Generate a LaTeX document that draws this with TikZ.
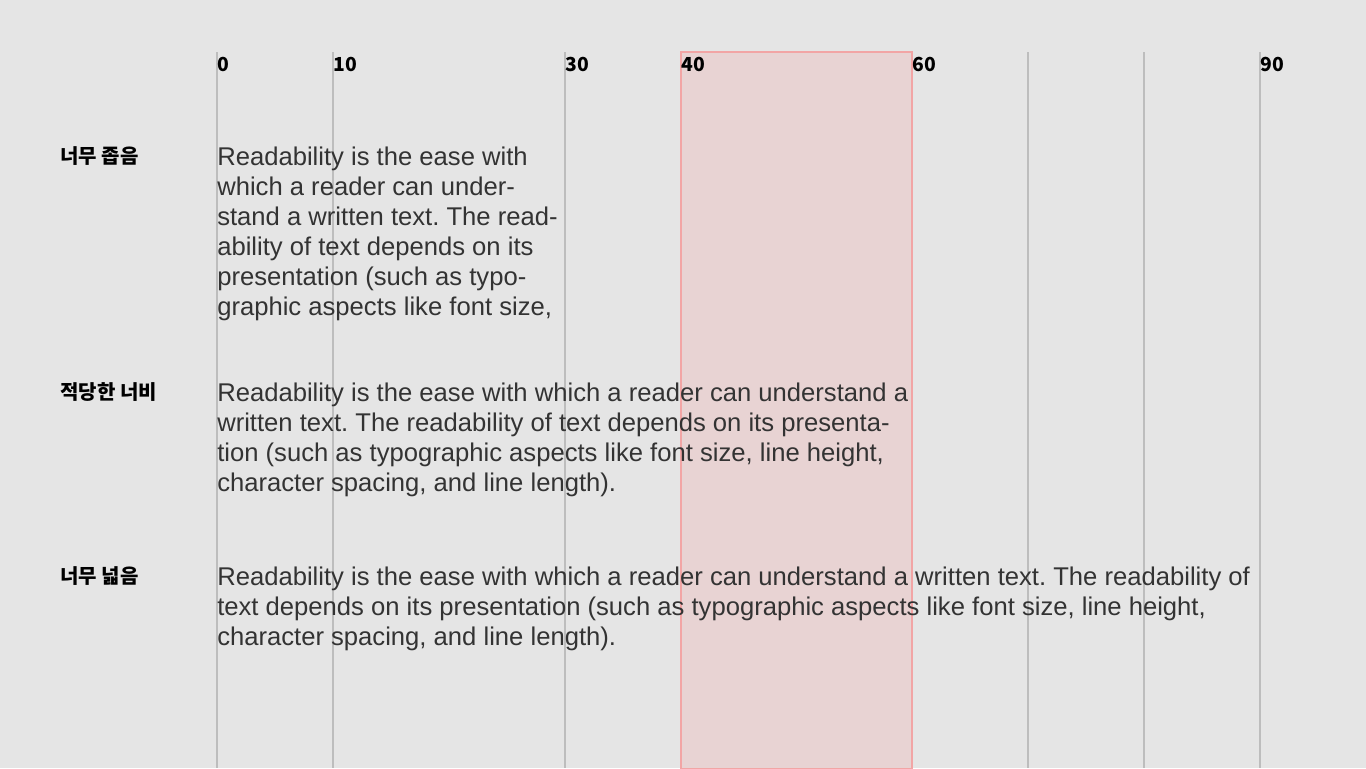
\documentclass[tikz,border=0pt]{standalone}
\usepackage{fontspec}
\setmainfont{Liberation Sans}
\newfontfamily\krfont{Noto Sans CJK KR}
\frenchspacing
\definecolor{bg}{HTML}{E5E5E5}
\definecolor{grid}{HTML}{BDBDBD}
\definecolor{shade}{HTML}{E8D3D3}
\definecolor{shadeedge}{HTML}{F2A5A5}
\definecolor{txt}{HTML}{333333}
\begin{document}
\begin{tikzpicture}[x=0.75pt,y=-0.75pt,
  gridline/.style={draw=grid,line width=1.2pt},
  tick/.style={anchor=west,inner sep=0pt,font=\krfont\bfseries\fontsize{14.5}{16}\selectfont,text=black},
  rowlabel/.style={anchor=west,inner sep=0pt,font=\krfont\bfseries\fontsize{15}{17}\selectfont,text=black},
  para/.style={anchor=base west,inner sep=0pt,align=left,text=txt,font=\frenchspacing\fontsize{19.22}{22.5}\selectfont}]
\useasboundingbox (0,0) rectangle (1366,768);
\fill[bg] (0,0) rectangle (1366,768);
% grid lines
\foreach \x/\n in {217/g0,333/g10,565/g30,1028/g70,1144/g80,1260/g90}{
  \draw[gridline] (\x,52) coordinate (\n t) -- (\x,768) coordinate (\n b);
}
% shaded region 40..60
\filldraw[fill=shade,draw=shadeedge,line width=0.9pt] (681,52) rectangle (912,768.5);
% tick labels
\node[tick] (t0) at (217.5,64) {0};
\node[tick] (t10) at (333.5,64) {10};
\node[tick] (t30) at (565.5,64) {30};
\node[tick] (t40) at (681.5,64) {40};
\node[tick] (t60) at (912.5,64) {60};
\node[tick] (t90) at (1260.5,64) {90};
% row labels
\node[rowlabel] (l1) at (60,156) {너무 좁음};
\node[rowlabel] (l2) at (60,392) {적당한 너비};
\node[rowlabel] (l3) at (60,576) {너무 넓음};
% paragraphs (base anchor = baseline of last line)
\node[para] (p1) at (217,315) {Readability is the ease with\\which a reader can under-\\stand a written text. The read-\\ability of text depends on its\\presentation (such as typo-\\graphic aspects like font size,};
\node[para] (p2) at (217,491) {Readability is the ease with which a reader can understand a\\written text. The readability of text depends on its presenta-\\tion (such as typographic aspects like font size, line height,\\character spacing, and line length).};
\node[para] (p3) at (217,645) {Readability is the ease with which a reader can understand a written text. The readability of\\text depends on its presentation (such as typographic aspects like font size, line height,\\character spacing, and line length).};
\end{tikzpicture}
\end{document}
